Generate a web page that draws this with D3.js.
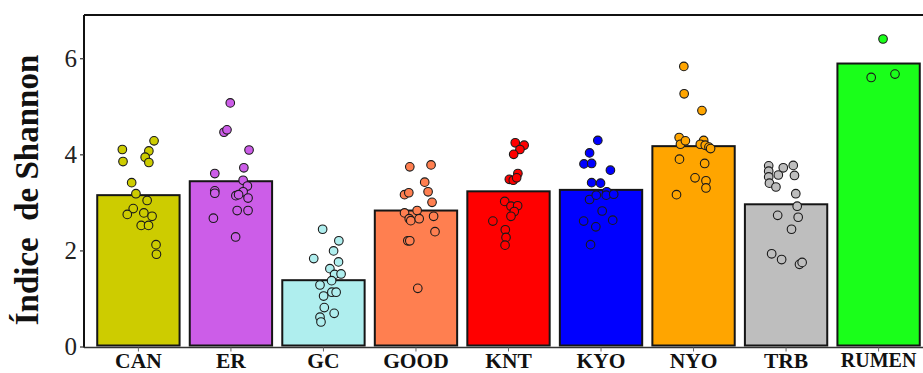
<!DOCTYPE html>
<html>
<head>
<meta charset="utf-8">
<script src="https://cdn.jsdelivr.net/npm/d3@7"></script>
<style>
  body { margin: 0; background: #fff; }
  svg { display: block; }
</style>
</head>
<body>
<svg id="chart" width="923" height="373"></svg>
<script>
// Groups and mean Shannon index per group (bar heights)
const categories = ["CAN", "ER", "GC", "GOOD", "KNT", "KYO", "NYO", "TRB", "RUMEN"];
const meanShannon = [3.15, 3.44, 1.38, 2.83, 3.23, 3.26, 4.17, 2.96, 5.89];
const barColors = ["#cdcc00", "#cc5de8", "#afeeee", "#ff7f50", "#ff0000", "#0000ff", "#ffa500", "#bebebe", "#1aff1a"];
const yTicks = [0, 2, 4, 6];

// Individual samples, one list per group (same order as categories)
const sampleValues = [
  [4.10, 3.85, 4.28, 4.07, 3.94, 3.83, 3.41, 3.18, 3.04, 2.87, 2.75, 2.78, 2.71, 2.52, 2.52, 2.12, 1.92],
  [5.07, 4.46, 4.51, 4.09, 3.60, 3.72, 3.46, 3.24, 3.19, 3.34, 3.22, 3.14, 3.16, 3.09, 2.83, 2.83, 2.67, 2.28],
  [2.44, 2.20, 1.99, 1.83, 1.76, 1.62, 1.50, 1.51, 1.37, 1.28, 1.13, 1.13, 1.05, 0.81, 0.69, 0.61, 0.51],
  [3.74, 3.78, 3.42, 3.16, 3.20, 3.22, 3.00, 2.78, 2.83, 2.66, 2.62, 2.66, 2.71, 2.39, 2.20, 2.20, 1.21],
  [4.24, 4.19, 4.10, 4.00, 3.60, 3.48, 3.46, 3.51, 3.02, 2.92, 2.93, 2.81, 2.71, 2.61, 2.43, 2.27, 2.11],
  [4.29, 4.03, 3.80, 3.81, 3.67, 3.41, 3.40, 3.22, 3.06, 3.15, 3.15, 3.17, 2.82, 2.61, 2.63, 2.49, 2.12],
  [5.83, 5.26, 4.91, 4.35, 4.21, 4.28, 4.29, 4.21, 4.19, 4.15, 4.12, 3.90, 3.81, 3.51, 3.45, 3.30, 3.16],
  [3.76, 3.65, 3.53, 3.40, 3.32, 3.57, 3.72, 3.77, 3.56, 3.18, 2.92, 2.73, 2.69, 2.44, 1.93, 1.81, 1.71, 1.75],
  [6.40, 5.60, 5.67]
];
// Horizontal jitter of each sample, as a fraction of the bar width
const sampleJitter = [
  [-0.195, -0.187, 0.19, 0.127, 0.082, 0.127, -0.082, -0.03, 0.106, -0.063, -0.135, 0.066, 0.166, 0.034, 0.123, 0.214, 0.219],
  [-0.008, -0.084, -0.048, 0.22, -0.196, 0.157, 0.148, -0.196, -0.196, 0.2, 0.148, 0.06, 0.093, 0.208, 0.076, 0.208, -0.213, 0.057],
  [-0.01, 0.187, 0.123, -0.118, 0.183, 0.078, 0.135, 0.214, 0.099, -0.042, 0.102, 0.154, 0.002, 0.01, 0.13, -0.042, -0.03],
  [-0.075, 0.183, 0.106, -0.139, -0.087, 0.147, 0.195, -0.139, 0.014, -0.082, -0.063, 0.039, 0.214, 0.231, -0.099, -0.075, 0.022],
  [0.082, 0.19, 0.139, 0.063, 0.114, 0.01, 0.058, 0.099, -0.046, 0.03, 0.111, 0.07, 0.03, -0.19, -0.039, -0.03, -0.042],
  [-0.039, -0.139, -0.207, -0.114, 0.114, -0.114, -0.006, 0.07, -0.139, -0.058, 0.063, 0.154, 0.014, -0.211, 0.142, -0.063, -0.127],
  [-0.118, -0.114, 0.102, -0.175, -0.159, -0.099, 0.123, 0.082, 0.142, 0.187, 0.207, -0.171, 0.135, 0.018, 0.151, 0.151, -0.207],
  [-0.211, -0.211, -0.211, -0.202, -0.123, -0.094, -0.034, 0.087, 0.102, 0.118, 0.135, -0.102, 0.147, 0.066, -0.175, -0.054, 0.163, 0.195],
  [0.054, -0.09, 0.199]
];

const svg = d3.select("#chart");
const plotLeft = 84, plotTop = 15, plotBottom = 346.5;

// Scales
const x = d3.scaleBand()
    .domain(categories)
    .range([plotLeft, 933])
    .paddingInner(0.11)
    .paddingOuter(0.143);

const y = d3.scaleLinear()
    .domain([0, 6.9])
    .range([plotBottom, plotTop]);

const color = d3.scaleOrdinal().domain(categories).range(barColors);

// Flatten the samples so each one knows its group
const samples = [];
categories.forEach(function(c, i){
  sampleValues[i].forEach(function(v, j){
    samples.push({group: c, value: v, jitter: sampleJitter[i][j]});
  });
});

// Top border of the panel
svg.append("line")
    .attr("x1", plotLeft).attr("x2", 923)
    .attr("y1", plotTop).attr("y2", plotTop)
    .attr("stroke", "#111").attr("stroke-width", 2);

// Bars
svg.append("g")
  .selectAll("rect")
  .data(categories)
  .enter().append("rect")
    .attr("x", function(d){ return x(d); })
    .attr("width", x.bandwidth())
    .attr("y", function(d, i){ return y(meanShannon[i]); })
    .attr("height", function(d, i){ return y(0) - y(meanShannon[i]) - 1; })
    .attr("fill", function(d){ return color(d); })
    .attr("stroke", "#151515")
    .attr("stroke-width", 2);

// Sample points
svg.append("g")
  .selectAll("circle")
  .data(samples)
  .enter().append("circle")
    .attr("cx", function(d){ return x(d.group) + x.bandwidth() / 2 + d.jitter * x.bandwidth(); })
    .attr("cy", function(d){ return y(d.value); })
    .attr("r", 4.3)
    .attr("fill", function(d){ return color(d.group); })
    .attr("stroke", "#1a1a1a")
    .attr("stroke-width", 1.1);

// Y axis
const yAxis = svg.append("g")
    .attr("transform", "translate(" + plotLeft + ",0)")
    .call(d3.axisLeft(y).tickValues(yTicks).tickFormat(d3.format("d"))
      .tickSize(4).tickPadding(3).tickSizeOuter(0));
yAxis.select(".domain").attr("stroke", "#111").attr("stroke-width", 2)
    .attr("d", "M0," + plotTop + "V" + (plotBottom + 1));
yAxis.selectAll(".tick line").attr("stroke", "#333").attr("stroke-width", 1.2);
yAxis.selectAll(".tick text")
    .attr("font-family", "'Liberation Serif', 'Times New Roman', serif")
    .attr("font-size", 25)
    .attr("fill", "#222");

// X axis
const xAxis = svg.append("g")
    .attr("transform", "translate(0," + (plotBottom + 1) + ")")
    .call(d3.axisBottom(x).tickSize(4).tickPadding(1).tickSizeOuter(0));
xAxis.select(".domain").attr("stroke", "#333").attr("stroke-width", 1.5)
    .attr("d", "M" + plotLeft + ",0H923");
xAxis.selectAll(".tick line").attr("stroke", "#666");
xAxis.selectAll(".tick text")
    .attr("font-family", "'Liberation Serif', 'Times New Roman', serif")
    .attr("font-weight", "bold")
    .attr("font-size", function(d){ return d == "RUMEN" ? 20 : 21.5; })
    .attr("fill", "#111");

// Y axis title
svg.append("text")
    .attr("transform", "translate(38,190) rotate(-90)")
    .attr("text-anchor", "middle")
    .attr("font-family", "'Liberation Serif', 'Times New Roman', serif")
    .attr("font-weight", "bold")
    .attr("font-size", 33)
    .attr("fill", "#111")
    .style("white-space", "pre")
    .text("Índice  de Shannon");
</script>
</body>
</html>
